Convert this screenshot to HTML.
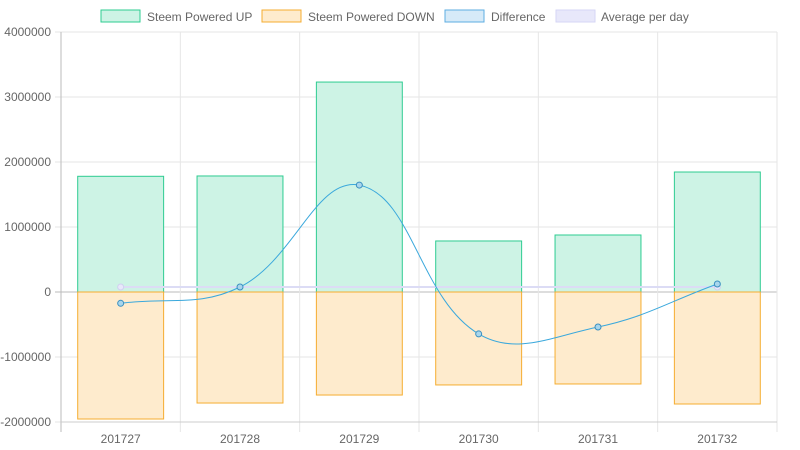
<!DOCTYPE html>
<html><head><meta charset="utf-8"><style>
html,body{margin:0;padding:0;background:#fff;width:800px;height:450px;overflow:hidden}
svg{display:block;font-family:"Liberation Sans",sans-serif}
</style></head><body>
<svg id="chart" width="800" height="450" xmlns="http://www.w3.org/2000/svg">
<g id="legend">
<g><rect x="101" y="10" width="39" height="12" fill="#cdf3e5" stroke="#2ecc91" stroke-width="1"/><text x="147" y="21" font-size="12" fill="#666">Steem Powered UP</text></g>
<g><rect x="262" y="10" width="39" height="12" fill="#feebcd" stroke="#f5ad30" stroke-width="1"/><text x="308" y="21" font-size="12" fill="#666">Steem Powered DOWN</text></g>
<g><rect x="445" y="10" width="39" height="12" fill="#d6eaf8" stroke="#5dade2" stroke-width="1"/><text x="491" y="21" font-size="12" fill="#666">Difference</text></g>
<g><rect x="556" y="10" width="39" height="12" fill="#e8e8fa" stroke="#d6d6f5" stroke-width="1"/><text x="601" y="21" font-size="12" fill="#666">Average per day</text></g>
</g>
<g id="grid"></g><g id="bars"></g><g id="lines"></g><g id="axes"></g>
</svg>
<script>
const categories=["201727","201728","201729","201730","201731","201732"];
const upValues=[1780000,1785000,3230000,785000,877000,1846000];
const downValues=[-1954000,-1708000,-1585000,-1430000,-1415000,-1723000];
const diffValues=[-174000,77000,1645000,-645000,-538000,123000];
const avgValues=[77000,77000,77000,77000,77000,77000];
const yTicks=[4000000,3000000,2000000,1000000,0,-1000000,-2000000];

const NS="http://www.w3.org/2000/svg";
const L=61,R=777,T=32,B=422,yMax=4000000,yMin=-2000000;
const bw=(R-L)/categories.length;
function yS(v){return T+(yMax-v)/(yMax-yMin)*(B-T);}
function xS(i){return L+bw*(i+0.5);}
function mk(tag,attrs,parent){const e=document.createElementNS(NS,tag);for(const k in attrs)e.setAttribute(k,attrs[k]);parent.appendChild(e);return e;}
const grid=document.getElementById('grid'),bars=document.getElementById('bars'),lines=document.getElementById('lines'),axes=document.getElementById('axes');

yTicks.forEach(t=>{
  const y=yS(t);
  const g=mk('line',{x1:L-6,x2:R,y1:y,y2:y,stroke:t===0?'#bbb':'#e6e6e6','stroke-width':1},grid);
  
  
  const tx=mk('text',{x:L-10,y:y+4,'text-anchor':'end','font-size':12,fill:'#666'},axes);
  tx.textContent=String(t);
  
  
});
for(let i=0;i<=categories.length;i++){
  const x=L+bw*i;
  const g=mk('line',{x1:x,x2:x,y1:T,y2:B+10,stroke:i===0?'#bbb':'#e6e6e6','stroke-width':1},grid);
  
  
}
const xa=mk('line',{x1:L,x2:R,y1:B,y2:B,stroke:'#ccc'},axes);


categories.forEach((c,i)=>{
  const tx=mk('text',{x:xS(i),y:443,'text-anchor':'middle','font-size':12,fill:'#666'},axes);
  tx.textContent=c;
  
  
});
const barW=bw*0.72;
categories.forEach((c,i)=>{
  const x=xS(i)-barW/2;
  const u=mk('rect',{x:x,y:yS(upValues[i]),width:barW,height:yS(0)-yS(upValues[i]),fill:'#cdf3e5',stroke:'#2ecc91','stroke-width':1},bars);
  
  
  const d=mk('rect',{x:x,y:yS(0),width:barW,height:yS(downValues[i])-yS(0),fill:'#feebcd',stroke:'#f5ad30','stroke-width':1},bars);
  
  
});
function spline(pts,t){
  let d='M'+pts[0][0]+','+pts[0][1];
  const cp=pts.map((p,i)=>{
    const prev=pts[i-1]||p,next=pts[i+1]||p;
    const d01=Math.hypot(p[0]-prev[0],p[1]-prev[1]),d12=Math.hypot(next[0]-p[0],next[1]-p[1]);
    const s=d01+d12||1;const fa=t*d01/s,fb=t*d12/s;
    return {p:[p[0]-fa*(next[0]-prev[0]),p[1]-fa*(next[1]-prev[1])],n:[p[0]+fb*(next[0]-prev[0]),p[1]+fb*(next[1]-prev[1])]};
  });
  for(let i=1;i<pts.length;i++){d+=' C'+cp[i-1].n.join(',')+' '+cp[i].p.join(',')+' '+pts[i].join(',');}
  return d;
}
const avgPts=avgValues.map((v,i)=>[xS(i),yS(v)]);
const al=mk('path',{d:spline(avgPts,0.4),fill:'none',stroke:'#dcdcf5','stroke-width':2},lines);


[0,5].forEach(i=>{
  const c=mk('circle',{cx:avgPts[i][0],cy:avgPts[i][1],r:3,fill:'#e8e8fa',stroke:'#d0d0f0'},lines);
  
  
});
const diffPts=diffValues.map((v,i)=>[xS(i),yS(v)]);
const dl=mk('path',{d:spline(diffPts,0.4),fill:'none',stroke:'#3aa8dc','stroke-width':1},lines);


diffPts.forEach(p=>{
  const c=mk('circle',{cx:p[0],cy:p[1],r:3,fill:'#a9d6ec',stroke:'#3a8fc0','stroke-width':1},lines);
  
  
});
</script>
</body></html>
